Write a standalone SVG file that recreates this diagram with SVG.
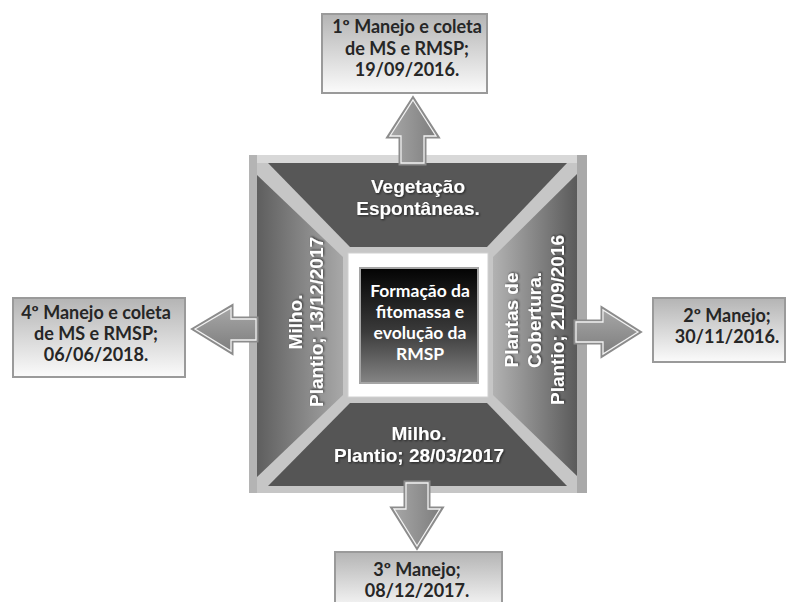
<svg xmlns="http://www.w3.org/2000/svg" width="787" height="602" viewBox="0 0 787 602">
<defs>
<linearGradient id="gBox" x1="0" y1="0" x2="0" y2="1">
<stop offset="0" stop-color="#b4b4b4"/><stop offset="1" stop-color="#fbfbfb"/>
</linearGradient>
<linearGradient id="gCenter" x1="0" y1="0" x2="0" y2="1">
<stop offset="0" stop-color="#030303"/><stop offset="0.55" stop-color="#3a3a3a"/><stop offset="1" stop-color="#858585"/>
</linearGradient>
<linearGradient id="gLeft" x1="0" y1="0" x2="1" y2="0">
<stop offset="0" stop-color="#5e5e5e"/><stop offset="1" stop-color="#a8a8a8"/>
</linearGradient>
<linearGradient id="gRight" x1="0" y1="0" x2="1" y2="0">
<stop offset="0" stop-color="#b2b2b2"/><stop offset="1" stop-color="#5a5a5a"/>
</linearGradient>
<linearGradient id="gArrowV" x1="0" y1="0" x2="1" y2="0">
<stop offset="0" stop-color="#a8a8a8"/><stop offset="1" stop-color="#7c7c7c"/>
</linearGradient>
<linearGradient id="gArrowH" x1="0" y1="0" x2="0" y2="1">
<stop offset="0" stop-color="#a8a8a8"/><stop offset="1" stop-color="#7c7c7c"/>
</linearGradient>
<filter id="sh" x="-10%" y="-10%" width="120%" height="130%">
<feDropShadow dx="1" dy="1" stdDeviation="0.8" flood-color="#000" flood-opacity="0.6"/>
</filter>
</defs>
<style>
.box{fill:url(#gBox);stroke:#9a9a9a;stroke-width:2}
.btxt{font-family:Lato,"Open Sans",sans-serif;font-weight:bold;font-size:18px;fill:#262626;text-anchor:middle}
.ctxt{font-family:Lato,"Open Sans",sans-serif;font-weight:bold;font-size:17.5px;fill:#ffffff;text-anchor:middle}
.ttxt{font-family:"Liberation Sans",Arial,sans-serif;font-weight:bold;font-size:19px;fill:#ffffff;text-anchor:middle;filter:url(#sh)}
.arrow-o{stroke:#8c8c8c;stroke-width:3;stroke-linejoin:miter}
.arrow-i{stroke:#f2f2f2;stroke-width:1.3;stroke-linejoin:miter}
</style>
<rect width="787" height="602" fill="#ffffff"/>

<g id="frame">
<rect x="249" y="155" width="338" height="338" fill="#c6c6c6"/>
<rect x="249" y="155" width="338" height="8" fill="#d8d8d8"/>
<rect x="249" y="155" width="8" height="338" fill="#b4b4b4"/>
<rect x="577" y="155" width="10" height="338" fill="#a9a9a9"/>
</g>

<g id="top-segment">
<polygon points="268,163 567,163 487,247 350,247" fill="#575757"/>
<text class="ttxt" x="418" y="193">Vegetação</text>
<text class="ttxt" x="418" y="215">Espontâneas.</text>
</g>
<g id="left-segment">
<polygon points="257,175 343,257 343,395 257,477" fill="url(#gLeft)"/>
<text class="ttxt" transform="translate(302,322) rotate(-90)">Milho.</text>
<text class="ttxt" transform="translate(323,322) rotate(-90)">Plantio; 13/12/2017</text>
</g>
<g id="right-segment">
<polygon points="493,257 577,174 577,476 493,395" fill="url(#gRight)"/>
<text class="ttxt" transform="translate(518,320) rotate(-90)">Plantas de</text>
<text class="ttxt" transform="translate(541,320) rotate(-90)">Cobertura.</text>
<text class="ttxt" transform="translate(564,320) rotate(-90)">Plantio; 21/09/2016</text>
</g>
<g id="bottom-segment">
<polygon points="350,403 487,403 567,486 268,486" fill="#555555"/>
<text class="ttxt" x="419" y="440">Milho.</text>
<text class="ttxt" x="419" y="462">Plantio; 28/03/2017</text>
</g>

<g id="center">
<rect x="348" y="253" width="140" height="144" fill="#ffffff" stroke="#d0d0d0" stroke-width="1"/>
<rect x="360" y="268" width="118" height="115" fill="url(#gCenter)" stroke="#a5a5a5" stroke-width="2"/>
<text class="ctxt" x="420" y="297">Formação da</text>
<text class="ctxt" x="420" y="318">fitomassa e</text>
<text class="ctxt" x="420" y="339">evolução da</text>
<text class="ctxt" x="420" y="360">RMSP</text>
</g>

<g id="box-1">
<rect class="box" x="322" y="14" width="165" height="79"/>
<text class="btxt" x="407" y="33">1º Manejo e coleta</text>
<text class="btxt" x="407" y="55">de MS e RMSP;</text>
<text class="btxt" x="407" y="76">19/09/2016.</text>
</g>
<g id="box-2">
<rect class="box" x="653" y="298" width="132" height="64"/>
<text class="btxt" x="727" y="322">2º Manejo;</text>
<text class="btxt" x="727" y="343">30/11/2016.</text>
</g>
<g id="box-3">
<rect class="box" x="335" y="552" width="167" height="60"/>
<text class="btxt" x="417" y="576">3º Manejo;</text>
<text class="btxt" x="417" y="597">08/12/2017.</text>
</g>
<g id="box-4">
<rect class="box" x="13" y="298" width="172" height="79"/>
<text class="btxt" x="96" y="319">4º Manejo e coleta</text>
<text class="btxt" x="96" y="340">de MS e RMSP;</text>
<text class="btxt" x="96" y="361">06/06/2018.</text>
</g>

<g id="connectors">
<path class="arrow-o" fill="url(#gArrowV)" d="M413,98 L438,137 L425,137 L425,164 L400,164 L400,137 L388,137 Z"/>
<path class="arrow-i" fill="none" d="M413,100 L436,136 L424,136 L424,163 L401,163 L401,136 L390,136 Z"/>
<path class="arrow-o" fill="url(#gArrowH)" d="M640,332 L602,308 L602,321 L575,321 L575,343 L602,343 L602,356 Z"/>
<path class="arrow-i" fill="none" d="M638,332 L603,310 L603,322 L576,322 L576,342 L603,342 L603,354 Z"/>
<path class="arrow-o" fill="url(#gArrowV)" d="M417,548 L442,508 L429,508 L429,482 L405,482 L405,508 L392,508 Z"/>
<path class="arrow-i" fill="none" d="M417,546 L440,509 L428,509 L428,483 L406,483 L406,509 L394,509 Z"/>
<path class="arrow-o" fill="url(#gArrowH)" d="M193,329 L232,306 L232,318 L257,318 L257,341 L232,341 L232,353 Z"/>
<path class="arrow-i" fill="none" d="M195,329 L231,308 L231,319 L256,319 L256,340 L231,340 L231,351 Z"/>
</g>
</svg>
